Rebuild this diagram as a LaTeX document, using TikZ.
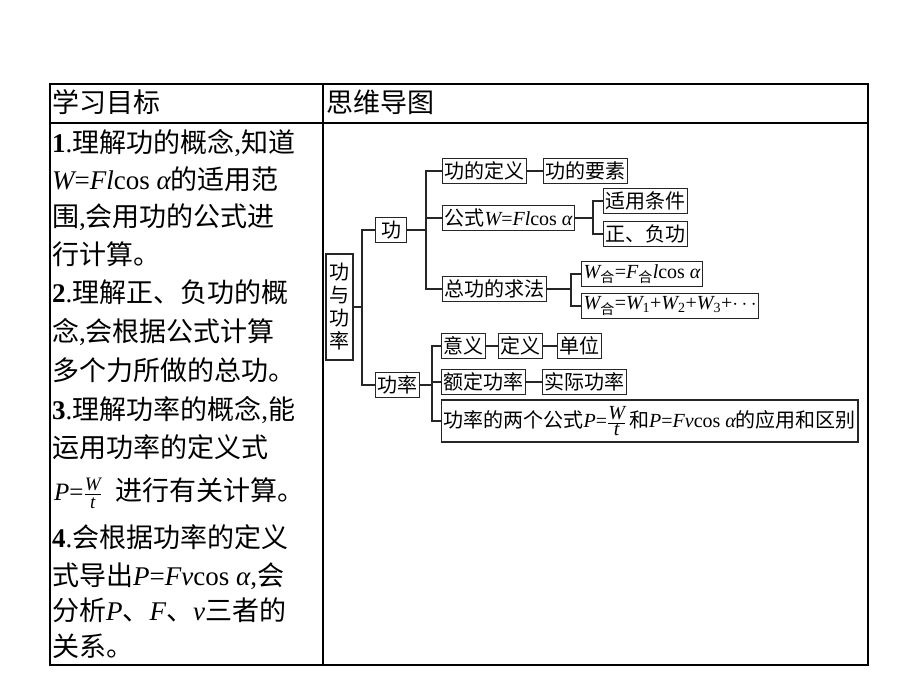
\documentclass[tikz,border=0pt]{standalone}
\usepackage{fontspec}
\setmainfont{Noto Sans CJK SC}
\newfontfamily\tm{Liberation Serif}
\newcommand\I[1]{{\tm\itshape #1}}
\newcommand\R[1]{{\tm #1}}
\newcommand\B[1]{{\tm\bfseries #1}}
\newcommand\fr[2]{\ensuremath{\frac{\hbox{\I{#1}}}{\hbox{\I{#2}}}}}
\newcommand\frs[2]{\ensuremath{\frac{\hbox{\fontsize{19}{20}\selectfont\I{#1}}}{\hbox{\fontsize{19}{20}\selectfont\I{#2}}}}}
\newcommand\sbx[1]{\textsubscript{#1}}
\begin{document}
\begin{tikzpicture}[x=1pt,y=-1pt,
  lt/.style={anchor=base west, inner sep=0pt, font=\fontsize{27}{30}\selectfont},
  mbox/.style={draw=black!85, line width=1.2pt, inner xsep=2pt, inner ysep=1pt,
    minimum height=25pt, font=\fontsize{20}{24}\selectfont, anchor=west},
  conn/.style={line width=1.3pt, draw=black!85},
  outer/.style={line width=2.4pt},
  inner/.style={line width=1.4pt}]
\useasboundingbox (0,0) rectangle (920,690);
\fill[white] (0,0) rectangle (920,690);
% table
\draw[outer] (50,84) rectangle (868,665);
\draw[inner] (50,123) -- (868,123);
\draw[inner] (323,84) -- (323,665);
\node[lt] (h1) at (52,113) {学习目标};
\node[lt] (h2) at (326,113) {思维导图};
% left column
\node[lt] (l1) at (52,152) {\B{1}\R{.}理解功的概念\R{,}知道};
\node[lt] (l2) at (52,189) {\I{W}\R{=}\I{Fl}\R{cos }\I{α}的适用范};
\node[lt] (l3) at (52,226) {围\R{,}会用功的公式进};
\node[lt] (l4) at (52,264) {行计算。};
\node[lt] (l5) at (52,302) {\B{2}\R{.}理解正、负功的概};
\node[lt] (l6) at (52,341) {念\R{,}会根据公式计算};
\node[lt] (l7) at (52,380) {多个力所做的总功。};
\node[lt] (l8) at (52,419) {\B{3}\R{.}理解功率的概念\R{,}能};
\node[lt] (l9) at (52,457) {运用功率的定义式};
\node[lt] (l10) at (54,500) {{\fontsize{25}{26}\selectfont\I{P}\R{=}\frs{W}{t}}\hspace{14pt}进行有关计算。};
\node[lt] (l11) at (52,547) {\B{4}\R{.}会根据功率的定义};
\node[lt] (l12) at (52,585) {式导出\I{P}\R{=}\I{Fv}\R{cos }\I{α}\R{,}会};
\node[lt] (l13) at (52,620) {分析\I{P}、\I{F}、\I{v}三者的};
\node[lt] (l14) at (52,656) {关系。};
% mind map nodes
\node[mbox, anchor=center, align=center, minimum width=27pt, minimum height=106pt,
  font=\fontsize{20}{23}\selectfont] (gyl) at (339.5,307) {功\\与\\功\\率};
\node[mbox, minimum width=31pt] (g) at (375,230) {功};
\node[mbox] (gl) at (375,385) {功率};
\node[mbox] (gdy) at (442,171) {功的定义};
\node[mbox] (gys) at (543,171) {功的要素};
\node[mbox] (gs) at (442,218) {公式\I{W}\R{=}\I{Fl}\R{cos }\I{α}};
\node[mbox] (sy) at (603,201) {适用条件};
\node[mbox] (zf) at (603,234) {正、负功};
\node[mbox] (zg) at (442,289) {总功的求法};
\node[mbox] (w1) at (581,274) {\I{W}\sbx{合}\R{=}\I{F}\sbx{合}\I{l}\R{cos }\I{α}};
\node[mbox] (w2) at (581,306) {\I{W}\sbx{合}\R{=}\I{W}\sbx{\R{1}}\R{+}\I{W}\sbx{\R{2}}\R{+}\I{W}\sbx{\R{3}}\R{+}$\cdots$};
\node[mbox] (yy) at (441,346) {意义};
\node[mbox] (dy) at (498,346) {定义};
\node[mbox] (dw) at (557,346) {单位};
\node[mbox] (ed) at (441,382) {额定功率};
\node[mbox] (sj) at (542,382) {实际功率};
\node[mbox, minimum height=42pt] (lg) at (441,421) {功率的两个公式\I{P}\R{=}\fr{W}{t}\hspace{3pt}和\I{P}\R{=}\I{Fv}\R{cos }\I{α}的应用和区别};
% branch points
\coordinate (b0) at (362,307);
\coordinate (b1) at (426,230);
\coordinate (b2) at (593,218);
\coordinate (b3) at (571,289);
\coordinate (b4) at (432,385);
% connectors
\draw[conn] (gyl.east) -- (b0);
\draw[conn] (g.west) -| (b0);
\draw[conn] (gl.west) -| (b0);
\draw[conn] (g.east) -- (b1);
\draw[conn] (gdy.west) -| (b1);
\draw[conn] (zg.west) -| (b1);
\draw[conn] (gs.west) -- (gs.west -| b1);
\draw[conn] (gdy.east) -- (gys.west);
\draw[conn] (gs.east) -- (b2);
\draw[conn] (sy.west) -| (b2);
\draw[conn] (zf.west) -| (b2);
\draw[conn] (zg.east) -- (b3);
\draw[conn] (w1.west) -| (b3);
\draw[conn] (w2.west) -| (b3);
\draw[conn] (gl.east) -- (b4);
\draw[conn] (yy.west) -| (b4);
\draw[conn] (ed.west) -| (b4);
\draw[conn] (lg.west) -| (b4);
\draw[conn] (yy.east) -- (dy.west);
\draw[conn] (dy.east) -- (dw.west);
\draw[conn] (ed.east) -- (sj.west);
\end{tikzpicture}
\end{document}
